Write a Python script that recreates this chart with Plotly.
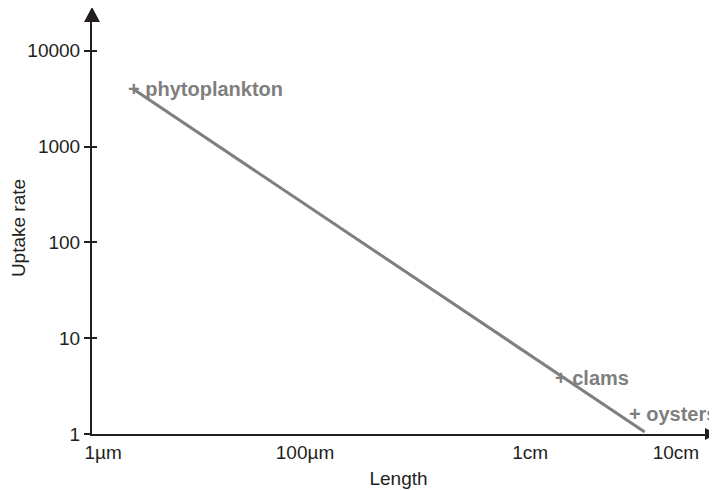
import math
import plotly.graph_objects as go

# x values: log10 of length (in µm), as placed on the schematic axis
tick_pos = [0.11, 2.12, 4.36, 5.81]
tick_text = ["1µm", "100µm", "1cm", "10cm"]

line_x = [0.41, 5.50]
line_y = [3981, 1.05]

y_ticks = [1, 10, 100, 1000, 10000]
y_text = ["1", "10", "100", "1000", "10000"]

labels = ["+ phytoplankton", "+ clams", "+ oysters"]
label_x = [0.41, 4.66, 5.39]
label_y = [3981, 3.84, 1.62]

AX = "#231f20"
GRAY = "#7f7f7f"
FONT = "Liberation Sans, Arial, sans-serif"

fig = go.Figure()
fig.add_trace(go.Scatter(x=line_x, y=line_y, mode="lines",
                         line=dict(color=GRAY, width=3), showlegend=False,
                         hoverinfo="skip"))
# invisible trace for overlay axis
fig.add_trace(go.Scatter(x=line_x, y=line_y, mode="lines", yaxis="y2",
                         line=dict(color="rgba(0,0,0,0)"), showlegend=False,
                         hoverinfo="skip"))

for t, x, y in zip(labels, label_x, label_y):
    fig.add_annotation(x=x, y=math.log10(y),
                       text="<b>" + t + "</b>", showarrow=False,
                       xanchor="left", yanchor="middle", xshift=-7,
                       font=dict(family=FONT, size=20, color=GRAY))

# arrow heads
fig.add_shape(type="path", xref="paper", yref="paper", xsizemode="pixel",
              ysizemode="pixel", xanchor=0, yanchor=1,
              path="M -8,0 L 8,0 L 0,15 Z", fillcolor=AX, line=dict(width=0))
fig.add_shape(type="path", xref="paper", yref="paper", xsizemode="pixel",
              ysizemode="pixel", xanchor=1, yanchor=0,
              path="M 0,-6 L 0,6 L 12,0 Z", fillcolor=AX, line=dict(width=0))

fig.update_layout(
    width=709, height=482,
    margin=dict(l=84, r=12, t=14, b=56),
    paper_bgcolor="white", plot_bgcolor="white",
    font=dict(family=FONT, size=19, color=AX),
    xaxis=dict(range=[0, 6.10], showgrid=False, zeroline=False, automargin=False,
               showline=True, linecolor=AX, linewidth=2,
               tickvals=tick_pos, ticktext=tick_text, ticks="",
               tickfont=dict(size=19, color=AX),
               title=dict(text="Length", font=dict(size=19, color=AX), standoff=10)),
    yaxis=dict(type="log", range=[0, 4.30], showgrid=False, zeroline=False,
               automargin=False,
               showline=True, linecolor=AX, linewidth=2,
               tickvals=y_ticks, ticktext=y_text, ticks="outside",
               ticklen=6, tickwidth=1.5, tickcolor=AX,
               tickfont=dict(size=19, color=AX),
               title=dict(text="Uptake rate", font=dict(size=19, color=AX), standoff=14)),
    yaxis2=dict(type="log", range=[0, 4.30], overlaying="y", side="left",
                showgrid=False, zeroline=False, showline=False, automargin=False,
                tickvals=y_ticks, showticklabels=False, ticks="inside",
                ticklen=5, tickwidth=1.5, tickcolor=AX),
)

fig.write_html("out.html")
